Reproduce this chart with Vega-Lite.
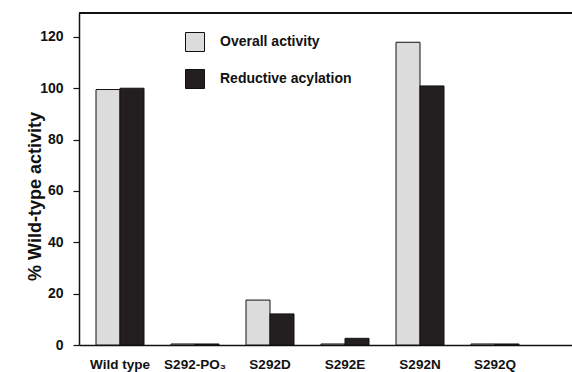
{
  "$schema": "https://vega.github.io/schema/vega-lite/v6.json",
  "width": 493,
  "height": 332,
  "autosize": {"type": "none"},
  "padding": {"left": 79, "top": 13, "right": 0, "bottom": 27},
  "background": "white",
  "config": {
    "view": {"stroke": null},
    "font": "Liberation Sans"
  },
  "data": {
    "values": [
      {"variant": "Wild type", "measure": "Overall activity", "value": 99.5},
      {"variant": "Wild type", "measure": "Reductive acylation", "value": 100},
      {"variant": "S292-PO₃", "measure": "Overall activity", "value": 0.4},
      {"variant": "S292-PO₃", "measure": "Reductive acylation", "value": 0.4},
      {"variant": "S292D", "measure": "Overall activity", "value": 17.5},
      {"variant": "S292D", "measure": "Reductive acylation", "value": 12.1},
      {"variant": "S292E", "measure": "Overall activity", "value": 0.4},
      {"variant": "S292E", "measure": "Reductive acylation", "value": 2.6},
      {"variant": "S292N", "measure": "Overall activity", "value": 117.9},
      {"variant": "S292N", "measure": "Reductive acylation", "value": 100.9},
      {"variant": "S292Q", "measure": "Overall activity", "value": 0.4},
      {"variant": "S292Q", "measure": "Reductive acylation", "value": 0.4}
    ]
  },
  "layer": [
    {
      "mark": {"type": "bar", "stroke": "#111", "strokeWidth": 1},
      "encoding": {
        "x": {
          "field": "variant",
          "type": "nominal",
          "sort": ["Wild type", "S292-PO₃", "S292D", "S292E", "S292N", "S292Q"],
          "scale": {"paddingInner": 0.36, "paddingOuter": 0.4667, "align": 0.243},
          "axis": {
            "title": null,
            "labelAngle": 0,
            "ticks": false,
            "labelPadding": 12,
            "labelBaseline": "top",
            "labelFontSize": 13.5,
            "labelFontWeight": "bold",
            "labelColor": "#111",
            "domainColor": "#111",
            "domainWidth": 1.5
          }
        },
        "xOffset": {
          "field": "measure",
          "type": "nominal",
          "sort": ["Overall activity", "Reductive acylation"],
          "scale": {"paddingInner": 0, "paddingOuter": 0}
        },
        "y": {
          "field": "value",
          "type": "quantitative",
          "scale": {"domain": [0, 129.3], "nice": false},
          "axis": {
            "values": [0, 20, 40, 60, 80, 100, 120],
            "title": "%  Wild-type activity",
            "titleFontSize": 18,
            "titleFontWeight": "bold",
            "titleColor": "#111",
            "titleAngle": -90,
            "titleX": -39,
            "titleY": 183,
            "titleAlign": "center",
            "titleBaseline": "alphabetic",
            "labelFontSize": 14,
            "labelFontWeight": "bold",
            "labelColor": "#111",
            "labelPadding": 10,
            "tickSize": 6,
            "tickColor": "#111",
            "tickWidth": 1.2,
            "domainColor": "#111",
            "domainWidth": 1.5,
            "grid": false
          }
        },
        "fill": {
          "field": "measure",
          "type": "nominal",
          "scale": {"domain": ["Overall activity", "Reductive acylation"], "range": ["#dcdcdc", "#231f20"]},
          "legend": {
            "title": null,
            "orient": "none",
            "legendX": 106,
            "legendY": 19,
            "padding": 0,
            "symbolType": "square",
            "symbolSize": 361,
            "symbolStrokeColor": "#111",
            "symbolStrokeWidth": 1,
            "symbolOpacity": 1,
            "labelFontSize": 14,
            "labelFontWeight": "bold",
            "labelColor": "#111",
            "labelOffset": 15,
            "rowPadding": 13
          }
        }
      }
    },
    {
      "mark": {"type": "rule", "color": "#111", "strokeWidth": 1.5},
      "encoding": {"y": {"datum": 129.3}}
    }
  ]
}
